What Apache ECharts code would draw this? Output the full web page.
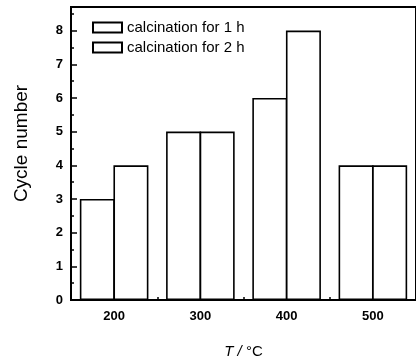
<!DOCTYPE html>
<html>
<head>
<meta charset="utf-8">
<script src="https://cdn.jsdelivr.net/npm/echarts@6/dist/echarts.min.js"></script>
<style>
html,body{margin:0;padding:0;background:#fff;}
#chart{width:416px;height:364px;}
</style>
</head>
<body>
<div id="chart"></div>
<script>
const temperatures = [200, 300, 400, 500];
const cycles1h = [3, 5, 6, 4];
const cycles2h = [4, 5, 8, 4];
const seriesNames = ['calcination for 1 h', 'calcination for 2 h'];
const xTickValues = [200, 250, 300, 350, 400, 450, 500];
const xLabelValues = [200, 300, 400, 500];
const yMajorTicks = [0, 1, 2, 3, 4, 5, 6, 7, 8];
const yMinorTicks = [0.5, 1.5, 2.5, 3.5, 4.5, 5.5, 6.5, 7.5, 8.5];

const font = '"Liberation Sans", Arial, sans-serif';
const chart = echarts.init(document.getElementById('chart'), null, {renderer: 'canvas'});

function pairs(vals) { return temperatures.map((t, i) => [t, vals[i]]); }

const barStyle = {color: '#fff', borderColor: '#000', borderWidth: 1.6};

chart.setOption({
  animation: false,
  backgroundColor: '#fff',
  grid: {left: 71, top: 7, bottom: 64, right: -6, show: true, borderColor: '#000', borderWidth: 2, backgroundColor: 'transparent'},
  legend: {
    orient: 'vertical', left: 92, top: 20, padding: 0, itemWidth: 29, itemHeight: 10, itemGap: 5,
    icon: 'rect',
    textStyle: {fontFamily: font, fontSize: 15, color: '#000'},
    data: seriesNames
  },
  xAxis: {
    type: 'value', min: 150, max: 550, interval: 50,
    name: '{i|T /} °C', nameLocation: 'middle', nameGap: 44,
    nameTextStyle: {fontFamily: font, fontSize: 15, color: '#000', rich: {i: {fontStyle: 'italic', fontFamily: font, fontSize: 15}}},
    axisLine: {show: true, lineStyle: {color: '#000', width: 2}},
    axisTick: {show: true, inside: true, length: 3, customValues: xTickValues, lineStyle: {color: '#000', width: 1.5}},
    axisLabel: {customValues: xLabelValues, margin: 10, fontFamily: font, fontSize: 13, fontWeight: 'bold', color: '#000'},
    splitLine: {show: false}
  },
  yAxis: [{
    type: 'value', min: 0, max: 8.7, interval: 1,
    name: 'Cycle number', nameLocation: 'middle', nameGap: 40,
    nameTextStyle: {fontFamily: font, fontSize: 19, color: '#000', padding: [0, 0, 0, 20]},
    axisLine: {show: true, lineStyle: {color: '#000', width: 2}},
    axisTick: {show: true, inside: true, length: 6, customValues: yMajorTicks, lineStyle: {color: '#000', width: 1.5}},
    axisLabel: {customValues: yMajorTicks, margin: 8, fontFamily: font, fontSize: 13, fontWeight: 'bold', color: '#000'},
    splitLine: {show: false}
  }, {
    type: 'value', min: 0, max: 8.7, position: 'left',
    axisLine: {show: false},
    axisTick: {show: true, inside: true, length: 3, customValues: yMinorTicks, lineStyle: {color: '#000', width: 1.5}},
    axisLabel: {show: false},
    splitLine: {show: false}
  }],
  series: [
    {name: seriesNames[0], type: 'bar', data: pairs(cycles1h), barWidth: 35, barGap: '-4%', itemStyle: barStyle},
    {name: seriesNames[1], type: 'bar', data: pairs(cycles2h), barWidth: 35, barGap: '-4%', itemStyle: barStyle}
  ]
});
</script>
</body>
</html>
